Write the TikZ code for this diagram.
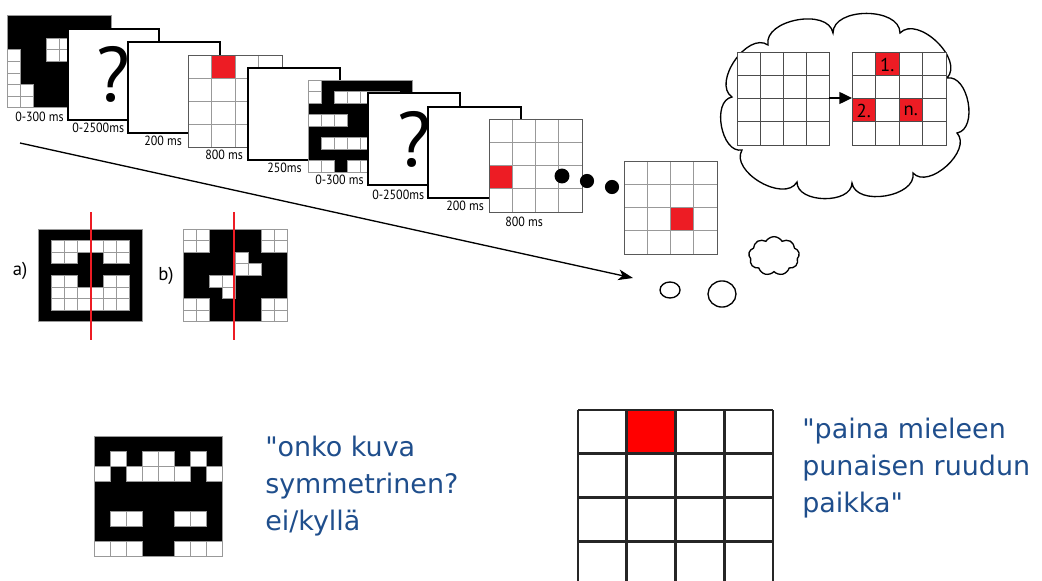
\documentclass[tikz,border=0pt]{standalone}
\usepackage{fontspec}
\setmainfont{DejaVu Sans}[Ligatures=TeXOff]
\newfontfamily\labfont{PT Sans}
\newfontfamily\labnarrow{PT Sans}[FakeStretch=0.9]
\usetikzlibrary{arrows.meta,shapes.symbols}
\definecolor{ired}{RGB}{237,28,36}
\definecolor{txtblue}{RGB}{31,78,140}
\tikzset{
  cellline/.style={draw=black!40, line width=0.5pt},
  gridin/.style={draw=black!40, line width=0.6pt},
  gridout/.style={draw=black!65, line width=0.7pt},
  cloudgrid/.style={draw=black!70, line width=0.6pt},
  frm/.style={draw=black, line width=1pt, fill=white},
  lbl/.style={font=\labnarrow\fontsize{10}{12}\selectfont, anchor=west, inner sep=0pt},
  qmark/.style={font=\labfont\fontsize{58}{58}\selectfont, inner sep=0pt},
  bubble/.style={draw=black, line width=1pt},
  redline/.style={draw=ired, line width=2.2pt},
  bigtxt/.style={font=\fontsize{20.2}{27.4}\selectfont, text=txtblue, align=left, anchor=base west, inner sep=0pt},
  ablbl/.style={font=\labfont\fontsize{14}{14}\selectfont, inner sep=0pt},
}
% pattern: x0 y0 cw ch ncol nrow whitecells
\newcommand\pixpat[7]{%
  \fill[black] (#1,#2) rectangle ++({#5*#3},{#6*#4});
  \foreach \c/\r in {#7}{\draw[cellline,fill=white] ({#1+\c*#3},{#2+\r*#4}) rectangle ++(#3,#4);}
  \draw[cellline] (#1,#2) rectangle ++({#5*#3},{#6*#4});
}
% 4x4 grid: x0 y0 cw ch innerstyle outerstyle
\newcommand\gridlines[6]{%
  \foreach \i in {1,2,3}{\draw[#5] ({#1+\i*#3},#2) -- ++(0,{4*#4});
    \draw[#5] (#1,{#2+\i*#4}) -- ++({4*#3},0);}
  \draw[#6] (#1,#2) rectangle ++({4*#3},{4*#4});
}
\begin{document}
\begin{tikzpicture}[x=0.75pt,y=-0.75pt]
\useasboundingbox (0,0) rectangle (1042,581);

% ---------- frame 1 ----------
\pixpat{7}{15}{13.1}{11.6}{8}{8}{0/3,0/4,0/5,0/6,0/7,1/6,1/7,3/2,4/2,3/3,4/3}
% ---------- frame 2 ----------
\draw[frm] (68,29) rectangle (159,120);
\node[qmark] (q1) at (113.5,74.5) {?};
% ---------- frame 3 ----------
\draw[frm] (128,42) rectangle (220,133);
% ---------- frame 4 ----------
\fill[white] (188,55) rectangle (282,147);
\fill[ired] (211.5,55) rectangle (235,78);
\gridlines{188}{55}{23.5}{23}{gridin}{gridout}
% ---------- frame 5 ----------
\draw[frm] (248,68) rectangle (340,160);
% ---------- frame 6 ----------
\pixpat{308}{80}{13}{11.5}{8}{8}{0/0,0/1,2/1,3/1,4/1,5/1,6/1,0/3,1/3,2/3,1/5,2/5,3/5,4/5,5/5,6/5,0/7,1/7,3/7,4/7,5/7,6/7,7/7}
% ---------- frame 7 ----------
\draw[frm] (368,93) rectangle (460,185);
\node[qmark] (q2) at (414,139) {?};
% ---------- frame 8 ----------
\draw[frm] (428,107) rectangle (521,198);
% ---------- frame 9 ----------
\fill[white] (489,119) rectangle (582,212);
\fill[ired] (489,165.5) rectangle (512.25,188.75);
\gridlines{489}{119}{23.25}{23.25}{gridin}{gridout}
% ---------- frame labels ----------
\node[lbl] (l1) at (15,117) {0-300 ms};
\node[lbl] (l2) at (72,128) {0-2500ms};
\node[lbl] (l3) at (144,141) {200 ms};
\node[lbl] (l4) at (205,155) {800 ms};
\node[lbl] (l5) at (267,168) {250ms};
\node[lbl] (l6) at (315,180) {0-300 ms};
\node[lbl] (l7) at (372,195) {0-2500ms};
\node[lbl] (l8) at (446,206) {200 ms};
\node[lbl] (l9) at (505,222) {800 ms};
% ---------- dots ----------
\fill (562,176) circle[radius=5.6pt];
\fill (587,181) circle[radius=5.3pt];
\fill (612,187) circle[radius=5.3pt];
% ---------- frame 10 ----------
\fill[white] (624,161) rectangle (717,254);
\fill[ired] (670.5,207.5) rectangle (693.75,230.75);
\gridlines{624}{161}{23.25}{23.25}{gridin}{gridout}

% ---------- long arrow ----------
\coordinate (as) at (20,143);
\coordinate (ae) at (633,278);
\draw[line width=1pt, -{Stealth[length=11pt,width=8pt,inset=3pt]}] (as) -- (ae);

% ---------- thought bubbles ----------
\draw[bubble] (670,290) ellipse[x radius=7.5pt, y radius=6pt];
\draw[bubble] (722,294) ellipse[x radius=10.5pt, y radius=9.8pt];
\node[cloud, draw, line width=1pt, cloud puffs=9, cloud puff arc=120, aspect=1.3,
      minimum width=38pt, minimum height=29pt, inner sep=0pt] (sc) at (774,256) {};

% ---------- big cloud ----------
\draw[bubble, fill=white] (768,45) to[bend left=90] (833,33) to[bend left=90] (900,33)
  to[bend left=90] (947,78) to[bend left=90] (957,133) to[bend left=90] (913,173)
  to[bend left=90] (852,183) to[bend left=90] (797,182) to[bend left=90] (742,150)
  to[bend left=90] (732,97) to[bend left=90] (768,45) -- cycle;
\fill[white] (737,52) rectangle (829,145);
\gridlines{737}{52}{23}{23.25}{cloudgrid}{cloudgrid}
\fill[white] (852,52) rectangle (946,145);
\fill[ired] (875.5,52) rectangle (899,75.25);
\fill[ired] (852,98.5) rectangle (875.5,121.75);
\fill[ired] (899,98.5) rectangle (922.5,121.75);
\gridlines{852}{52}{23.5}{23.25}{cloudgrid}{cloudgrid}
\node[font=\labfont\fontsize{14}{14}\selectfont, inner sep=0pt] (n1) at (887.25,65) {1.};
\node[font=\labfont\fontsize{14}{14}\selectfont, inner sep=0pt] (n2) at (863.75,111) {2.};
\node[font=\labfont\fontsize{14}{14}\selectfont, inner sep=0pt] (nn) at (910.75,111) {n.};
\coordinate (cg1) at (829,98);
\coordinate (cg2) at (852,98);
\draw[line width=1pt, -{Triangle[length=9.5pt,width=9pt]}] (cg1) -- (cg2);

% ---------- a) b) ----------
\node[ablbl] (la) at (20,271) {a)};
\pixpat{38}{229}{13.1}{11.6}{8}{8}{1/1,2/1,3/1,4/1,5/1,6/1,1/2,2/2,5/2,6/2,1/4,2/4,5/4,6/4,1/5,2/5,3/5,4/5,5/5,6/5,1/6,2/6,3/6,4/6,5/6,6/6}
\coordinate (ra1) at (91,212); \coordinate (ra2) at (91,340);
\draw[redline] (ra1) -- (ra2);
\node[ablbl] (lb) at (166,276) {b)};
\pixpat{183}{229}{13}{11.6}{8}{8}{0/0,1/0,6/0,7/0,0/1,1/1,6/1,7/1,4/2,4/3,5/3,2/4,3/4,3/5,0/6,1/6,6/6,7/6,0/7,1/7,6/7,7/7}
\coordinate (rb1) at (234,212); \coordinate (rb2) at (234,340);
\draw[redline] (rb1) -- (rb2);

% ---------- bottom left pattern ----------
\pixpat{94}{436}{16.1}{15}{8}{8}{1/1,3/1,4/1,6/1,0/2,2/2,3/2,4/2,5/2,7/2,1/5,2/5,5/5,6/5,0/7,1/7,2/7,5/7,6/7,7/7}
\node[bigtxt] (t1) at (265,530) {"onko kuva\\symmetrinen?\\ei/kyllä};

% ---------- bottom right grid ----------
\fill[red] (626.75,410) rectangle (675.5,453.7);
\foreach \i in {0,1,2,3,4}{\draw[line width=2.2pt, draw=black!85] ({578+\i*48.75},410) -- ({578+\i*48.75},590);}
\foreach \j in {0,1,2,3}{\draw[line width=2.2pt, draw=black!85] (578,{410+\j*43.7}) -- (773,{410+\j*43.7});}
\node[bigtxt] (t2) at (802,512) {"paina mieleen\\punaisen ruudun\\paikka"};
\end{tikzpicture}
\end{document}
